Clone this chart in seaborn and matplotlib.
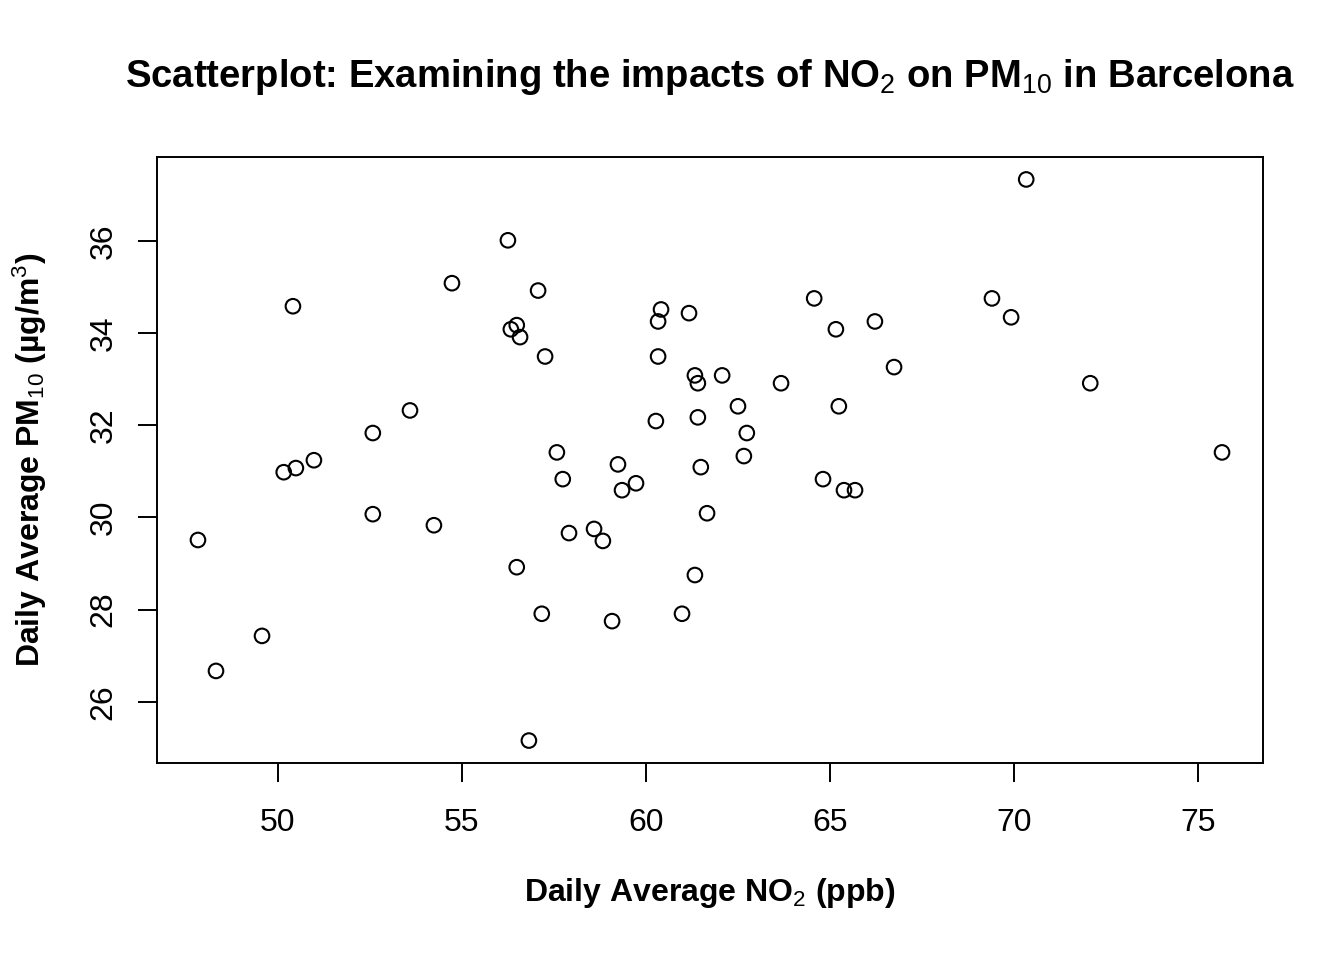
"""
Scatterplot of daily average NO2 against daily average PM10 in Barcelona.
"""

import matplotlib
matplotlib.use("Agg")
import matplotlib.pyplot as plt
import pandas as pd
import seaborn as sns

# Daily averages
no2_ppb = [47.83, 48.32, 49.57, 50.16, 50.49, 50.41, 50.98, 52.58, 52.58, 53.59,
           54.24, 54.73, 56.25, 56.33, 56.49, 56.58, 57.07, 57.26, 56.49, 56.82,
           57.17, 57.58, 57.74, 57.91, 58.59, 58.83, 59.08, 59.24, 59.35, 59.73,
           60.27, 60.33, 60.41, 60.33, 60.98, 61.17, 61.33, 61.41, 61.41, 61.49,
           61.66, 61.33, 62.07, 62.50, 62.74, 62.66, 63.67, 64.57, 65.16, 65.24,
           64.81, 65.38, 65.68, 66.22, 66.74, 69.40, 69.92, 70.33, 72.07, 75.65]
pm10_ugm3 = [29.51, 26.67, 27.43, 30.98, 31.07, 34.58, 31.24, 31.83, 30.07, 32.32,
             29.83, 35.08, 36.01, 34.08, 34.17, 33.91, 34.92, 33.49, 28.92, 25.16,
             27.91, 31.41, 30.83, 29.66, 29.75, 29.49, 27.75, 31.15, 30.59, 30.74,
             32.09, 34.25, 34.51, 33.49, 27.91, 34.43, 33.08, 32.91, 32.17, 31.09,
             30.09, 28.75, 33.08, 32.41, 31.83, 31.33, 32.91, 34.75, 34.08, 32.41,
             30.83, 30.59, 30.59, 34.25, 33.26, 34.75, 34.34, 37.33, 32.91, 31.41]
x_ticks = [50, 55, 60, 65, 70, 75]
y_ticks = [26, 28, 30, 32, 34, 36]

df = pd.DataFrame({"NO2": no2_ppb, "PM10": pm10_ugm3})

# Base style, then fonts and colours (set after seaborn so they stick)
sns.set_style("white")
plt.rcParams["font.family"] = ["Liberation Sans", "DejaVu Sans"]
plt.rcParams["mathtext.fontset"] = "custom"
plt.rcParams["mathtext.rm"] = "Liberation Sans"
plt.rcParams["mathtext.it"] = "Liberation Sans:italic"
plt.rcParams["mathtext.bf"] = "Liberation Sans:bold"
plt.rcParams["mathtext.default"] = "rm"
plt.rcParams["text.color"] = "black"
plt.rcParams["axes.labelcolor"] = "black"

fig = plt.figure(figsize=(13.44, 9.6), dpi=100)
ax = fig.add_axes([157 / 1344, 197 / 960, 1106 / 1344, 606 / 960])

# Open circles like R's pch = 1
sns.scatterplot(data=df, x="NO2", y="PM10", ax=ax, marker="o", s=110,
                facecolors="none", edgecolors="black", linewidth=1.5)

# R-style padded limits
x_pad = (max(no2_ppb) - min(no2_ppb)) * 0.04
y_pad = (max(pm10_ugm3) - min(pm10_ugm3)) * 0.04
ax.set_xlim(min(no2_ppb) - x_pad, max(no2_ppb) + x_pad)
ax.set_ylim(min(pm10_ugm3) - y_pad, max(pm10_ugm3) + y_pad)

ax.set_xticks(x_ticks)
ax.set_yticks(y_ticks)
ax.tick_params(axis="both", direction="out", length=13.5, width=1.4,
               color="black", labelsize=23, labelcolor="black",
               bottom=True, left=True, top=False, right=False)
ax.tick_params(axis="x", pad=19)
ax.tick_params(axis="y", pad=14, labelrotation=90)
for lab in ax.get_yticklabels():
    lab.set_verticalalignment("center")

for spine in ax.spines.values():
    spine.set_visible(True)
    spine.set_color("black")
    spine.set_linewidth(1.4)

# Labels and title
ax.set_xlabel("Daily Average NO$_2$ (ppb)", fontsize=23, fontweight="bold")
ax.xaxis.set_label_coords(0.5, -0.2145)
ax.xaxis.label.set_verticalalignment("center")
ax.set_ylabel("Daily Average PM$_{10}$ (µg/m$^3$)", fontsize=23,
              fontweight="bold")
ax.yaxis.set_label_coords(-0.1148, 0.5)
ax.yaxis.label.set_verticalalignment("center")

fig.text(710 / 1344, 1 - 77 / 960,
         "Scatterplot: Examining the impacts of NO$_2$ on PM$_{10}$ in Barcelona",
         ha="center", va="center", fontsize=27.5, fontweight="bold")

fig.savefig("out.png", dpi=100, facecolor="white")
